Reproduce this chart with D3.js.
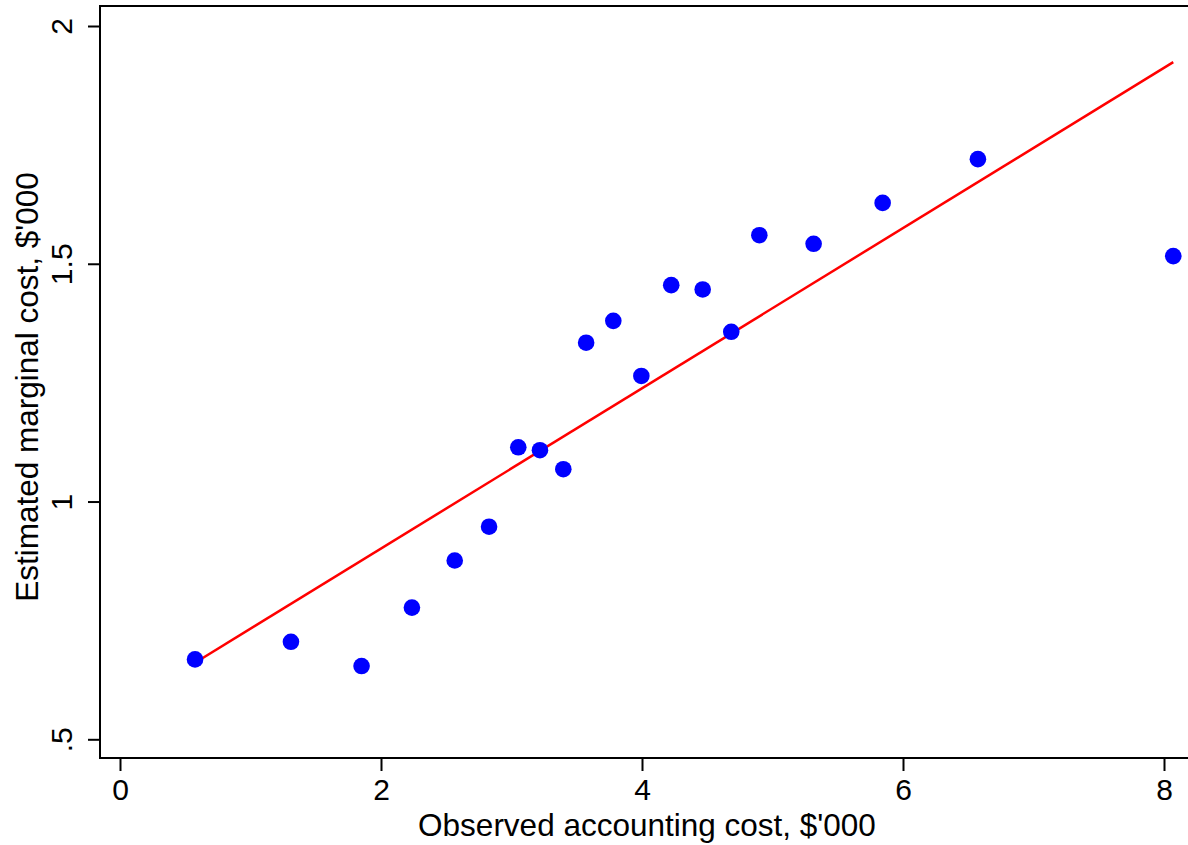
<!DOCTYPE html>
<html>
<head>
<meta charset="utf-8">
<script src="https://cdn.jsdelivr.net/npm/d3@7"></script>
<style>
  html, body { margin: 0; padding: 0; background: #fff; }
  svg { display: block; }
  text { font-family: "Liberation Sans", Arial, Helvetica, sans-serif; fill: #000; }
</style>
</head>
<body>
<svg id="chart" width="1188" height="845"></svg>
<script>
// observed accounting cost ($'000) vs estimated marginal cost ($'000)
const observed = [0.575, 1.310, 1.851, 2.237, 2.565, 2.828, 3.052, 3.218, 3.397, 3.572,
  3.780, 3.995, 4.224, 4.465, 4.684, 4.899, 5.315, 5.844, 6.574, 8.071]
const estimated = [0.668, 0.705, 0.654, 0.777, 0.876, 0.947, 1.114, 1.108, 1.068, 1.334,
  1.380, 1.264, 1.455, 1.446, 1.357, 1.560, 1.542, 1.628, 1.720, 1.516]

// fitted line, read at the two ends
const fitX = [0.575, 8.071]
const fitY = [0.661, 1.924]

const xTicks = [0, 2, 4, 6, 8]
const yTicks = [0.5, 1, 1.5, 2]
const yTickLabels = ['.5', '1', '1.5', '2']

const xTitle = "Observed accounting cost, $'000"
const yTitle = "Estimated marginal cost, $'000"

const plot = { left: 100, top: 6, right: 1194, bottom: 758 }

const x = d3.scaleLinear().domain([0, 8]).range([120, 1164])
const y = d3.scaleLinear().domain([0.5, 2]).range([739.3, 26])

const svg = d3.select('#chart')

// plot region border (right side runs off the image)
svg.append('path')
  .attr('d', `M${plot.right},${plot.top}H${plot.left}V${plot.bottom}H${plot.right}`)
  .attr('fill', 'none')
  .attr('stroke', '#000')
  .attr('stroke-width', 2)

// x axis
const xAxis = svg.append('g')
  .attr('transform', `translate(0,${plot.bottom})`)
  .call(d3.axisBottom(x).tickValues(xTicks).tickSize(13).tickPadding(8).tickFormat(d3.format('d')))
xAxis.select('.domain').remove()
xAxis.selectAll('.tick line').attr('stroke-width', 2)
xAxis.selectAll('.tick text')
  .attr('font-size', 30)
  .attr('font-family', '"Liberation Sans", Arial, sans-serif')
  .attr('dy', null)
  .attr('y', 42)

// y axis, labels rotated
const yAxis = svg.append('g')
  .attr('transform', `translate(${plot.left},0)`)
  .call(d3.axisLeft(y).tickValues(yTicks).tickSize(12).tickFormat((d, i) => yTickLabels[i]))
yAxis.select('.domain').remove()
yAxis.selectAll('.tick line').attr('stroke-width', 2)
yAxis.selectAll('.tick text')
  .attr('font-size', 30)
  .attr('font-family', '"Liberation Sans", Arial, sans-serif')
  .attr('x', null)
  .attr('dy', null)
  .attr('text-anchor', 'middle')
  .attr('transform', 'translate(-28,0) rotate(-90)')

// fitted line
svg.append('path')
  .datum(d3.zip(fitX, fitY))
  .attr('d', d3.line().x(d => x(d[0])).y(d => y(d[1])))
  .attr('fill', 'none')
  .attr('stroke', '#ff0000')
  .attr('stroke-width', 2.5)

// points
svg.selectAll('circle.pt')
  .data(d3.zip(observed, estimated))
  .enter().append('circle')
  .attr('class', 'pt')
  .attr('cx', d => x(d[0]))
  .attr('cy', d => y(d[1]))
  .attr('r', 8.3)
  .attr('fill', '#0000ff')

// axis titles
svg.append('text')
  .attr('x', 647)
  .attr('y', 836)
  .attr('text-anchor', 'middle')
  .attr('font-size', 31.5)
  .text(xTitle)

svg.append('text')
  .attr('transform', 'translate(38,387) rotate(-90)')
  .attr('text-anchor', 'middle')
  .attr('font-size', 31.5)
  .text(yTitle)
</script>
</body>
</html>
